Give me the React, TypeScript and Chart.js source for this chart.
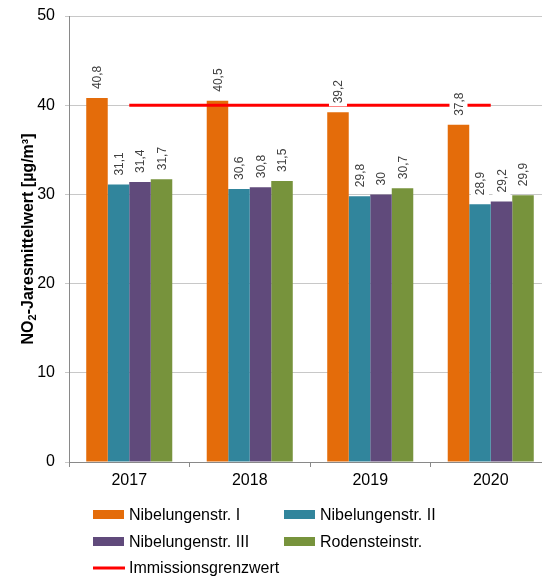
import React, { useEffect, useRef } from 'react';
import { Chart, registerables } from 'chart.js';

Chart.register(...registerables);

const FONT = "'Liberation Sans', Arial, sans-serif";

const years = ['2017', '2018', '2019', '2020'];
const nibelungen1 = [40.8, 40.5, 39.2, 37.8];
const nibelungen2 = [31.1, 30.6, 29.8, 28.9];
const nibelungen3 = [31.4, 30.8, 30, 29.2];
const rodenstein = [31.7, 31.5, 30.7, 29.9];
const grenzwert = [40, 40, 40, 40];
const seriesNames = ['Nibelungenstr. I', 'Nibelungenstr. II', 'Nibelungenstr. III', 'Rodensteinstr.', 'Immissionsgrenzwert'];
const seriesColors = ['#E46C0A', '#31859C', '#604A7B', '#77933C', '#FF0000'];
const yMin = 0;
const yMax = 50;
const yStep = 10;

const valueLabels = {
  id: 'valueLabels',
  afterDatasetsDraw(chart: any) {
    const ctx = chart.ctx;
    ctx.save();
    ctx.font = `12px ${FONT}`;
    chart.data.datasets.forEach((ds: any, i: number) => {
      if (ds.type === 'line') return;
      const meta = chart.getDatasetMeta(i);
      meta.data.forEach((el: any, j: number) => {
        const v = ds.data[j];
        const txt = String(v).replace('.', ',');
        const w = ctx.measureText(txt).width;
        ctx.save();
        ctx.translate(el.x, el.y - 9);
        ctx.rotate(-Math.PI / 2);
        ctx.fillStyle = '#ffffff';
        ctx.fillRect(-3, -9, w + 6, 18);
        ctx.fillStyle = '#404040';
        ctx.textAlign = 'left';
        ctx.textBaseline = 'middle';
        ctx.fillText(txt, 0, 1);
        ctx.restore();
      });
    });
    ctx.restore();
  },
};

const yTitle = {
  id: 'yTitle',
  afterDraw(chart: any) {
    const ctx = chart.ctx;
    const area = chart.chartArea;
    const parts = [
      { t: 'NO', size: 16, dy: 0 },
      { t: '2', size: 11, dy: 4 },
      { t: '-Jaresmittelwert [µg/m³]', size: 16, dy: 0 },
    ];
    ctx.save();
    let total = 0;
    const widths = parts.map((p) => {
      ctx.font = `bold ${p.size}px ${FONT}`;
      const w = ctx.measureText(p.t).width;
      total += w;
      return w;
    });
    ctx.translate(29, (area.top + area.bottom) / 2);
    ctx.rotate(-Math.PI / 2);
    ctx.fillStyle = '#000000';
    ctx.textAlign = 'left';
    ctx.textBaseline = 'middle';
    let x = -total / 2;
    parts.forEach((p, k) => {
      ctx.font = `bold ${p.size}px ${FONT}`;
      ctx.fillText(p.t, x, p.dy);
      x += widths[k];
    });
    ctx.restore();
  },
};

const gridLegend = {
  id: 'gridLegend',
  afterDraw(chart: any) {
    const ctx = chart.ctx;
    const colX = [93, 284];
    const rowY = [514.5, 541.5, 568];
    ctx.save();
    ctx.font = `16px ${FONT}`;
    ctx.textBaseline = 'middle';
    ctx.textAlign = 'left';
    chart.data.datasets.forEach((ds: any, i: number) => {
      const col = i % 2;
      const row = Math.floor(i / 2);
      const x = colX[col];
      const y = rowY[row];
      if (ds.type === 'line') {
        ctx.fillStyle = ds.borderColor;
        ctx.fillRect(x, y - 1.5, 32, 3);
      } else {
        ctx.fillStyle = ds.backgroundColor;
        ctx.fillRect(x, y - 4.5, 31, 9);
      }
      ctx.fillStyle = '#000000';
      ctx.fillText(ds.label, x + 36, y + 1);
    });
    ctx.restore();
  },
};

export default function App() {
  const ref = useRef<HTMLCanvasElement>(null);
  useEffect(() => {
    const barSeries = [nibelungen1, nibelungen2, nibelungen3, rodenstein];
    const chart = new Chart(ref.current as HTMLCanvasElement, {
      type: 'bar',
      data: {
        labels: years,
        datasets: [
          ...barSeries.map((d, i) => ({
            type: 'bar' as const,
            label: seriesNames[i],
            data: d,
            backgroundColor: seriesColors[i],
            borderWidth: 0,
            barPercentage: 1,
            categoryPercentage: 0.714,
            order: 1,
          })),
          {
            type: 'line' as const,
            label: seriesNames[4],
            data: grenzwert,
            borderColor: seriesColors[4],
            backgroundColor: seriesColors[4],
            borderWidth: 3,
            pointRadius: 0,
            fill: false,
            order: 0,
          } as any,
        ],
      },
      options: {
        responsive: false,
        animation: false,
        devicePixelRatio: 1,
        layout: { padding: { left: 0, right: 1, top: 16, bottom: 85 } },
        plugins: {
          legend: { display: false },
          tooltip: { enabled: false },
          title: { display: false },
        },
        scales: {
          x: {
            offset: true,
            grid: {
              offset: true,
              drawOnChartArea: false,
              drawTicks: true,
              tickLength: 5,
              color: '#898989',
            },
            border: { color: '#898989', width: 1 },
            ticks: {
              color: '#000000',
              font: { family: FONT, size: 16 },
              padding: 4,
            },
            afterFit: (scale: any) => {
              scale.height = 32;
              scale.paddingLeft = 0;
              scale.paddingRight = 0;
            },
          },
          y: {
            min: yMin,
            max: yMax,
            ticks: {
              stepSize: yStep,
              color: '#000000',
              font: { family: FONT, size: 16 },
              padding: 10,
            },
            grid: {
              color: '#C8C8C8',
              tickLength: 4,
              drawTicks: true,
            },
            border: { color: '#898989', width: 1 },
            afterFit: (scale: any) => {
              scale.width = 69;
              scale.paddingTop = 0;
              scale.paddingBottom = 0;
            },
          },
        },
      },
      plugins: [valueLabels, yTitle, gridLegend],
    });
    return () => chart.destroy();
  }, []);
  return (
    <div
      style={{
        position: 'absolute',
        left: 0,
        top: 0,
        width: 542,
        height: 579,
        overflow: 'hidden',
        background: '#ffffff',
      }}
    >
      <canvas ref={ref} width={552} height={579} style={{ display: 'block', width: 552, height: 579 }} />
    </div>
  );
}
